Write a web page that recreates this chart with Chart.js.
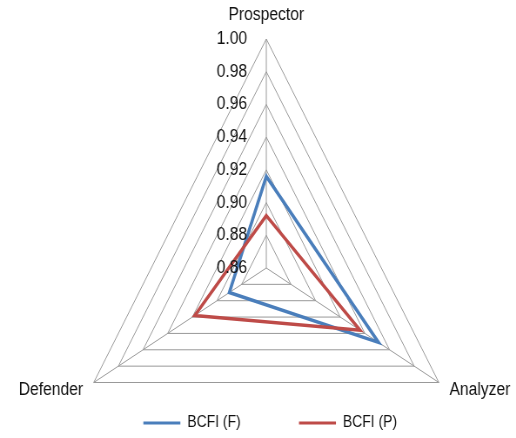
<!DOCTYPE html>
<html>
<head>
<meta charset="utf-8">
<script src="https://cdn.jsdelivr.net/npm/chart.js@4/dist/chart.umd.min.js"></script>
<style>
  html, body { margin: 0; padding: 0; background: #ffffff; overflow: hidden; }
  /* the plot is laid out on a wider canvas and narrowed to 516px,
     which gives the flattened triangle */
  #wrap { position: absolute; left: 0; top: 0; width: 593px; height: 438px;
          transform: scaleX(0.8702); transform-origin: 0 0; }
</style>
</head>
<body>
<div id="wrap"><canvas id="c" width="593" height="438"></canvas></div>
<script>
// Strategy types on the three axes
const categories = ['Prospector', 'Analyzer', 'Defender'];

// Index values per strategy type
const bcfiF = [0.916, 0.951, 0.890];
const bcfiP = [0.892, 0.936, 0.918];

// Radial axis ticks
const tickValues = [0.86, 0.88, 0.90, 0.92, 0.94, 0.96, 0.98, 1.00];
const tickLabels = ['0.86', '0.88', '0.90', '0.92', '0.94', '0.96', '0.98', '1.00'];

const FONT = '"Liberation Sans", Arial, sans-serif';
const PLOT = { cx: 306, cy: 268, r: 229 };

// Axis value labels sit to the left of the top spoke, right-aligned
const tickLabelPlugin = {
  id: 'radialTickLabels',
  afterDatasetsDraw(chart) {
    const s = chart.scales.r;
    const ctx = chart.ctx;
    ctx.save();
    ctx.font = '18px ' + FONT;
    ctx.fillStyle = '#111111';
    ctx.textAlign = 'right';
    ctx.textBaseline = 'middle';
    s.ticks.forEach((t) => {
      const d = s.getDistanceFromCenterForValue(t.value);
      ctx.fillText(t.label, s.xCenter - 22, s.yCenter - d);
    });
    ctx.restore();
  }
};

new Chart(document.getElementById('c'), {
  type: 'radar',
  data: {
    labels: categories,
    datasets: [
      {
        label: 'BCFI (F)',
        data: bcfiF,
        borderColor: '#4a7ebb',
        backgroundColor: '#4a7ebb',
        borderWidth: 3.5,
        borderJoinStyle: 'miter',
        pointRadius: 0,
        fill: false,
        order: 1,
        clip: false
      },
      {
        label: 'BCFI (P)',
        data: bcfiP,
        borderColor: '#be4b48',
        backgroundColor: '#be4b48',
        borderWidth: 3.5,
        borderJoinStyle: 'miter',
        pointRadius: 0,
        fill: false,
        order: 0,
        clip: false
      }
    ]
  },
  options: {
    responsive: false,
    animation: false,
    devicePixelRatio: 1,
    layout: { padding: { left: 28, bottom: -3 } },
    plugins: {
      tooltip: { enabled: false },
      legend: {
        position: 'bottom',
        labels: {
          boxWidth: 42.5,
          boxHeight: 3,
          padding: 67,
          color: '#111111',
          font: { family: FONT, size: 16 },
          sort: (a, b) => a.datasetIndex - b.datasetIndex,
          generateLabels(chart) {
            return Chart.defaults.plugins.legend.labels.generateLabels(chart).map((item) => {
              item.fillStyle = item.strokeStyle;
              item.lineWidth = 0;
              return item;
            });
          }
        }
      }
    },
    scales: {
      r: {
        min: 0.86,
        max: 1.00,
        afterBuildTicks(scale) {
          scale.ticks = tickValues.map((v) => ({ value: v }));
        },
        ticks: {
          display: false,
          callback: (v, i) => tickLabels[i]
        },
        grid: { color: '#999999', lineWidth: 1 },
        angleLines: { color: '#999999', lineWidth: 1 },
        pointLabels: {
          color: '#111111',
          font: { family: FONT, size: 18, lineHeight: 0.01 },
          padding: (ctx) => (ctx.index === 0 ? 24 : 14)
        },
        afterSetDimensions(scale) {
          scale.left = 0;
          scale.top = 0;
          scale.right = scale.chart.width;
          scale.bottom = scale.chart.height;
          scale.xCenter = PLOT.cx;
          scale.yCenter = PLOT.cy;
          scale.drawingArea = PLOT.r;
        }
      }
    }
  },
  plugins: [tickLabelPlugin]
});
</script>
</body>
</html>
